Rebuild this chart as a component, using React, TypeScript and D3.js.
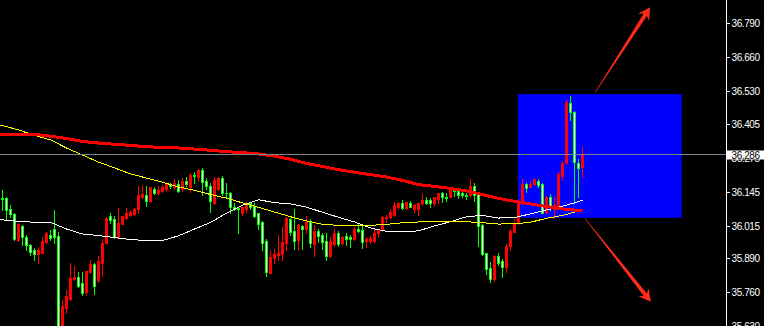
import React from "react";
import * as d3 from "d3";

const W = 764;
const H = 326;

// OHLC bars, oldest first
const opens = [
  36.120, 36.122, 36.079, 36.061, 35.961, 36.014, 35.973, 35.939, 35.920, 35.907,
  35.912, 35.954, 35.980, 36.003, 35.976, 35.625, 35.699, 35.734, 35.810, 35.818,
  35.795, 35.763, 35.836, 35.869, 35.808, 35.871, 35.950, 36.050, 36.040, 35.968,
  36.022, 36.043, 36.056, 36.060, 36.078, 36.124, 36.133, 36.111, 36.154, 36.139,
  36.149, 36.154, 36.173, 36.162, 36.175, 36.154, 36.184, 36.162, 36.209, 36.200,
  36.228, 36.186, 36.168, 36.100, 36.157, 36.199, 36.140, 36.138, 36.087, 36.083,
  36.062, 36.077, 36.100, 36.090, 36.062, 36.030, 35.957, 35.835, 35.890, 35.902,
  35.906, 35.950, 36.039, 35.996, 35.960, 36.013, 36.001, 36.030, 35.945, 35.994,
  35.979, 35.956, 35.899, 35.945, 35.985, 35.947, 35.975, 35.970, 35.962, 36.004,
  35.998, 35.956, 35.957, 35.957, 35.985, 35.998, 36.043, 36.049, 36.055, 36.087,
  36.100, 36.081, 36.103, 36.077, 36.077, 36.100, 36.113, 36.113, 36.100, 36.115,
  36.141, 36.126, 36.126, 36.151, 36.147, 36.138, 36.132, 36.132, 36.166, 36.138,
  36.017, 35.909, 35.854, 35.809, 35.899, 35.881, 35.856, 35.937, 35.992, 36.024,
  36.101, 36.175, 36.164, 36.175, 36.187, 36.175, 36.069, 36.124, 36.078, 36.090,
  36.205, 36.256, 36.483, 36.451, 36.254, 36.238,
];
const highs = [
  36.152, 36.126, 36.094, 36.065, 36.024, 36.018, 35.980, 35.945, 35.929, 35.935,
  35.973, 35.992, 35.999, 36.075, 35.992, 35.731, 35.767, 35.871, 35.859, 35.836,
  35.837, 35.842, 35.884, 35.871, 35.897, 35.963, 36.047, 36.063, 36.052, 36.082,
  36.052, 36.082, 36.075, 36.082, 36.167, 36.171, 36.165, 36.162, 36.162, 36.165,
  36.171, 36.180, 36.177, 36.193, 36.188, 36.196, 36.200, 36.216, 36.222, 36.231,
  36.235, 36.196, 36.177, 36.202, 36.202, 36.205, 36.177, 36.145, 36.100, 36.085,
  36.087, 36.106, 36.106, 36.103, 36.064, 36.034, 35.962, 35.922, 35.924, 35.979,
  36.008, 36.049, 36.043, 36.077, 36.021, 36.017, 36.052, 36.039, 36.017, 36.004,
  35.985, 35.985, 35.970, 36.001, 35.996, 35.975, 35.988, 35.979, 36.008, 36.026,
  36.013, 35.973, 35.975, 36.004, 36.001, 36.052, 36.055, 36.077, 36.106, 36.106,
  36.113, 36.106, 36.110, 36.096, 36.103, 36.136, 36.123, 36.119, 36.126, 36.141,
  36.145, 36.138, 36.157, 36.157, 36.149, 36.151, 36.141, 36.193, 36.179, 36.141,
  36.021, 35.911, 35.877, 35.902, 35.911, 35.886, 35.945, 36.001, 36.039, 36.115,
  36.192, 36.177, 36.184, 36.196, 36.192, 36.177, 36.129, 36.136, 36.126, 36.222,
  36.264, 36.496, 36.511, 36.455, 36.269, 36.315,
];
const lows = [
  36.075, 36.040, 36.047, 35.961, 35.958, 35.939, 35.920, 35.903, 35.884, 35.871,
  35.910, 35.950, 35.961, 35.950, 35.610, 35.610, 35.680, 35.731, 35.808, 35.780,
  35.750, 35.750, 35.833, 35.754, 35.801, 35.823, 35.948, 36.024, 35.967, 35.967,
  36.020, 36.040, 36.052, 36.056, 36.063, 36.120, 36.091, 36.107, 36.137, 36.133,
  36.145, 36.149, 36.158, 36.154, 36.145, 36.149, 36.167, 36.145, 36.177, 36.184,
  36.133, 36.154, 36.069, 36.098, 36.151, 36.132, 36.119, 36.062, 36.075, 35.988,
  36.056, 36.068, 36.077, 36.049, 36.004, 35.922, 35.822, 35.832, 35.873, 35.883,
  35.883, 35.922, 35.979, 35.924, 35.922, 35.927, 35.988, 35.932, 35.899, 35.953,
  35.924, 35.883, 35.896, 35.937, 35.937, 35.941, 35.941, 35.934, 35.960, 35.992,
  35.931, 35.934, 35.950, 35.953, 35.973, 35.996, 36.030, 36.043, 36.052, 36.077,
  36.077, 36.077, 36.085, 36.068, 36.055, 36.094, 36.098, 36.087, 36.090, 36.103,
  36.106, 36.110, 36.124, 36.128, 36.119, 36.126, 36.117, 36.126, 36.110, 35.937,
  35.903, 35.830, 35.800, 35.805, 35.864, 35.818, 35.839, 35.922, 35.990, 36.020,
  36.098, 36.145, 36.162, 36.171, 36.164, 36.062, 36.065, 36.075, 36.043, 36.088,
  36.190, 36.254, 36.419, 36.101, 36.126, 36.200,
];
const closes = [
  36.116, 36.075, 36.059, 35.963, 36.021, 35.971, 35.939, 35.916, 35.907, 35.920,
  35.958, 35.986, 35.967, 35.973, 35.620, 35.708, 35.746, 35.814, 35.820, 35.785,
  35.759, 35.840, 35.869, 35.785, 35.879, 35.950, 36.043, 36.035, 35.970, 36.024,
  36.050, 36.063, 36.069, 36.078, 36.133, 36.135, 36.111, 36.161, 36.139, 36.152,
  36.162, 36.177, 36.167, 36.177, 36.149, 36.184, 36.173, 36.209, 36.203, 36.226,
  36.180, 36.165, 36.111, 36.189, 36.199, 36.138, 36.138, 36.085, 36.077, 36.079,
  36.085, 36.103, 36.085, 36.052, 36.021, 35.950, 35.839, 35.896, 35.906, 35.911,
  35.953, 36.043, 35.992, 35.957, 36.017, 36.003, 36.030, 35.947, 35.996, 35.975,
  35.953, 35.899, 35.957, 35.988, 35.945, 35.973, 35.962, 35.962, 36.004, 35.996,
  35.953, 35.962, 35.966, 35.988, 35.998, 36.047, 36.047, 36.068, 36.094, 36.103,
  36.081, 36.104, 36.087, 36.094, 36.100, 36.113, 36.103, 36.103, 36.123, 36.139,
  36.123, 36.122, 36.154, 36.146, 36.132, 36.132, 36.129, 36.166, 36.132, 36.013,
  35.906, 35.851, 35.809, 35.899, 35.873, 35.856, 35.937, 35.996, 36.024, 36.111,
  36.175, 36.158, 36.175, 36.192, 36.171, 36.065, 36.124, 36.085, 36.092, 36.213,
  36.254, 36.486, 36.451, 36.260, 36.234, 36.286,
];

// Moving averages sampled at these bar indices
const maBars = [
  -1, 0, 4, 8, 12, 16, 20, 24, 28, 32, 36, 40, 44, 48, 52, 56, 60, 64, 68,
  72, 76, 80, 84, 88, 92, 96, 100, 104, 108, 112, 116, 120, 124, 128, 132,
  136, 140, 144, 145,
];
const maSlow = [
  36.364, 36.364, 36.364, 36.364, 36.357, 36.348, 36.337, 36.331, 36.326, 36.322,
  36.317, 36.314, 36.312, 36.308, 36.303, 36.298, 36.294, 36.289, 36.281, 36.269,
  36.253, 36.241, 36.229, 36.219, 36.210, 36.201, 36.188, 36.172, 36.165, 36.157,
  36.148, 36.134, 36.119, 36.108, 36.098, 36.088, 36.079, 36.073, 36.072,
];
const maMid = [
  36.401, 36.398, 36.381, 36.360, 36.343, 36.312, 36.285, 36.258, 36.236, 36.213,
  36.197, 36.181, 36.163, 36.150, 36.134, 36.120, 36.102, 36.085, 36.067, 36.049,
  36.033, 36.020, 36.016, 36.016, 36.016, 36.020, 36.026, 36.029, 36.030, 36.030,
  36.030, 36.026, 36.021, 36.022, 36.028, 36.043, 36.054, 36.071, 36.075,
];
const maFast = [
  36.037, 36.037, 36.031, 36.028, 36.028, 36.002, 35.983, 35.977, 35.969, 35.962,
  35.958, 35.958, 35.976, 36.002, 36.027, 36.063, 36.093, 36.114, 36.103, 36.098,
  36.086, 36.066, 36.047, 36.029, 36.006, 35.993, 35.991, 35.995, 36.014, 36.030,
  36.049, 36.054, 36.044, 36.046, 36.060, 36.075, 36.089, 36.107, 36.113,
];

const priceTicks = [36.79, 36.66, 36.53, 36.405, 36.275, 36.145, 36.015, 35.89, 35.76, 35.63];
const lastPrice = 36.286;

// Highlight zone (bar range and price range)
const zoneBars = [128.875, 169.8];
const zonePrices = [36.518, 36.045];

// Annotation arrows: [bar, price] tail and tip
const upArrow = { from: [148.1, 36.523], to: [161.9, 36.85] };
const downArrow = { from: [145.6, 36.043], to: [162.1, 35.724] };

const UP = "#ff0000";
const DOWN = "#00ff00";
const ARROW = "#ff2a1a";

const x = d3.scaleLinear().domain([0, 145]).range([2.5, 582.5]);
const y = d3.scaleLinear().domain([35.76, 36.79]).range([292.3, 23]);

function arrowPath(fromBar: number[], toBar: number[]) {
  const tx = x(fromBar[0]), ty = y(fromBar[1]);
  const px = x(toBar[0]), py = y(toBar[1]);
  const dx = px - tx, dy = py - ty;
  const len = Math.hypot(dx, dy);
  const ux = dx / len, uy = dy / len;
  const nx = -uy, ny = ux;
  const headLen = 12, headHalf = 6.5, notch = 9, shaftEnd = 2, shaftStart = 0.25;
  const bx = px - ux * notch, by = py - uy * notch;
  const wx = px - ux * headLen, wy = py - uy * headLen;
  const pts: [number, number][] = [
    [tx + nx * shaftStart, ty + ny * shaftStart],
    [bx + nx * shaftEnd, by + ny * shaftEnd],
    [wx + nx * headHalf, wy + ny * headHalf],
    [px, py],
    [wx - nx * headHalf, wy - ny * headHalf],
    [bx - nx * shaftEnd, by - ny * shaftEnd],
    [tx - nx * shaftStart, ty - ny * shaftStart],
  ];
  return "M" + pts.map((p) => p[0].toFixed(2) + "," + p[1].toFixed(2)).join("L") + "Z";
}

export default function App() {
  const maLine = (vals: number[]) =>
    d3
      .line<number>()
      .x((_, i) => x(maBars[i]))
      .y((v) => y(v))(vals) as string;

  const candles = opens.map((o, i) => {
    const c = closes[i];
    const hi = highs[i];
    const lo = lows[i];
    const cx = Math.floor(x(i));
    const bull = c >= o;
    const color = bull ? UP : DOWN;
    const yTop = Math.round(y(Math.max(o, c)));
    const yBot = Math.round(y(Math.min(o, c)));
    const bh = yBot - yTop + 1;
    const yH = Math.round(y(hi));
    const yL = Math.round(y(lo));
    return (
      <g key={i}>
        <rect x={cx} y={yH} width={1} height={yL - yH + 1} fill={color} />
        <rect x={cx - 1} y={yTop} width={3} height={bh} fill={color} />
        {!bull && bh > 2 && <rect x={cx} y={yTop + 1} width={1} height={bh - 2} fill="#ffffff" />}
      </g>
    );
  });

  const yLast = Math.floor(y(lastPrice)) + 0.5;
  const axisX = 726.5;

  return (
    <svg
      width={W}
      height={H}
      style={{ position: "absolute", left: 0, top: 0, display: "block" }}
      fontFamily="'Liberation Sans', Arial, sans-serif"
    >
      <rect x={0} y={0} width={W} height={H} fill="#000000" />
      <rect
        x={x(zoneBars[0])}
        y={y(zonePrices[0])}
        width={x(zoneBars[1]) - x(zoneBars[0])}
        height={y(zonePrices[1]) - y(zonePrices[0])}
        fill="#0000ff"
      />
      <g shapeRendering="crispEdges">{candles}</g>
      <g fill="none" shapeRendering="crispEdges">
        <path d={maLine(maFast)} stroke="#ffffff" strokeWidth={1} />
        <path d={maLine(maMid)} stroke="#ffff00" strokeWidth={1} />
        <path d={maLine(maSlow)} stroke="#ff0000" strokeWidth={3} />
      </g>
      <line x1={0} x2={axisX} y1={yLast} y2={yLast} stroke="#7c8794" strokeWidth={1} shapeRendering="crispEdges" />
      <path d={arrowPath(upArrow.from, upArrow.to)} fill={ARROW} />
      <path d={arrowPath(downArrow.from, downArrow.to)} fill={ARROW} />
      <line x1={axisX} x2={axisX} y1={0} y2={H} stroke="#ffffff" strokeWidth={1} shapeRendering="crispEdges" />
      <g fill="#ffffff" fontSize={10} letterSpacing={-0.4}>
        {priceTicks.map((v) => {
          const ty = Math.round(y(v));
          return (
            <g key={v}>
              <rect x={727} y={ty} width={3} height={1} fill="#ffffff" />
              <text x={731.5} y={ty} dy="0.36em">
                {v.toFixed(3)}
              </text>
            </g>
          );
        })}
      </g>
      <rect x={727} y={yLast - 4} width={37} height={9} fill="#ffffff" />
      <text x={731.5} y={yLast + 0.5} dy="0.36em" fill="#000000" fontSize={10} letterSpacing={-0.4}>
        {lastPrice.toFixed(3)}
      </text>
    </svg>
  );
}
